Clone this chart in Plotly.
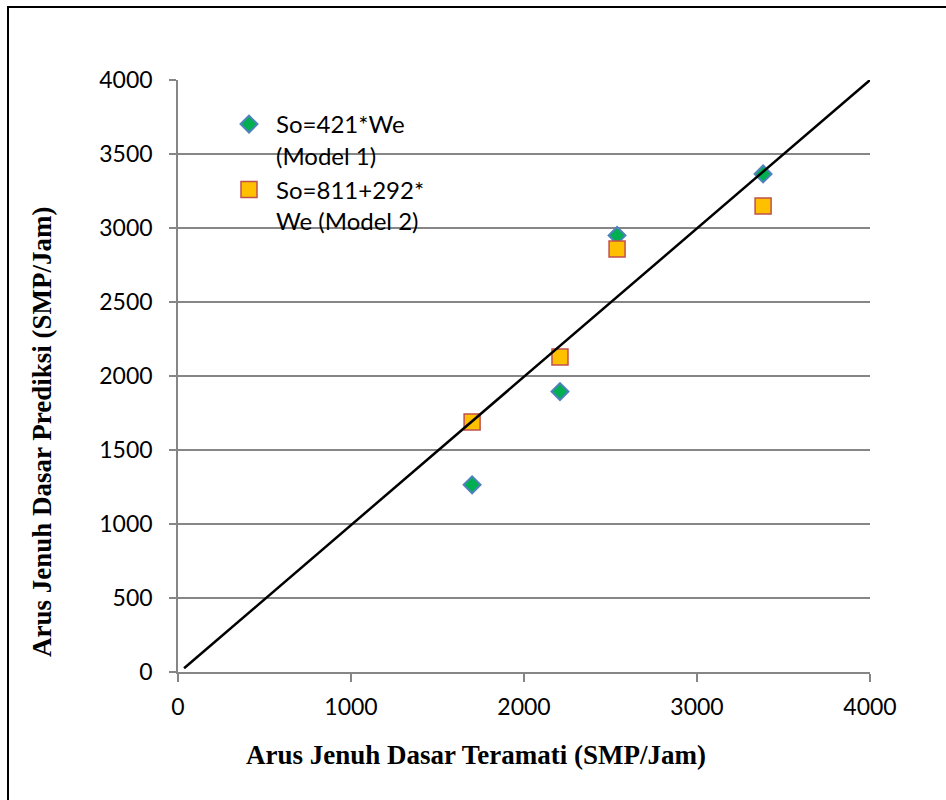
import plotly.graph_objects as go

observed = [1700, 2208, 2538, 3382]
model1 = [1265, 1895, 2950, 3365]
model2 = [1690, 2128, 2858, 3149]
line_x = [35, 4000]
line_y = [25, 4000]
ticks = [0, 500, 1000, 1500, 2000, 2500, 3000, 3500, 4000]
xticks = [0, 1000, 2000, 3000, 4000]

W, H = 946, 800
L, R, T, B = 178, 76, 80, 128
pw, ph = W - L - R, H - T - B

def px(x):
    return (x - L) / pw

def py(y):
    return (H - B - y) / ph

fig = go.Figure()
fig.add_trace(go.Scatter(
    x=observed, y=model1, mode="markers", name="So=421*We<br>(Model 1)",
    marker=dict(symbol="diamond", size=13, color="#00B050",
                line=dict(color="#4F81BD", width=2))))
fig.add_trace(go.Scatter(
    x=observed, y=model2, mode="markers", name="So=811+292*<br>We (Model 2)",
    marker=dict(symbol="square", size=16, color="#FFC000",
                line=dict(color="#C0504D", width=1.5))))
fig.add_trace(go.Scatter(
    x=line_x, y=line_y, mode="lines", showlegend=False,
    line=dict(color="black", width=2.5)))

tickfont = dict(family="Lato, Open Sans, sans-serif", size=23, color="#000000")
titlefont = dict(family="Liberation Serif, Times New Roman, serif", size=27, color="#000")
fig.update_layout(
    width=W, height=H,
    margin=dict(l=L, r=R, t=T, b=B),
    paper_bgcolor="white", plot_bgcolor="white",
    showlegend=True,
    legend=dict(x=px(222), y=py(102), xanchor="left", yanchor="top", valign="top",
                font=dict(family="Lato, Open Sans, sans-serif", size=24, color="#000"),
                bgcolor="rgba(0,0,0,0)", tracegroupgap=0, itemwidth=44),
    xaxis=dict(range=[0, 4000], tickvals=xticks, showgrid=False, zeroline=False,
               showline=True, linecolor="#868686", linewidth=1.5,
               ticks="outside", ticklen=8, tickcolor="#868686", tickwidth=1.5,
               tickfont=tickfont, ticklabelstandoff=6),
    yaxis=dict(range=[0, 4000], tickvals=ticks, showgrid=True, gridcolor="#868686",
               gridwidth=1.5, zeroline=False,
               showline=True, linecolor="#868686", linewidth=1.5,
               ticks="outside", ticklen=7, tickcolor="#868686", tickwidth=1.5,
               tickfont=tickfont, ticklabelstandoff=12),
    annotations=[
        dict(text="<b>Arus Jenuh Dasar Teramati (SMP/Jam)</b>", xref="paper", yref="paper",
             x=px(476), y=py(755), xanchor="center", yanchor="middle", showarrow=False,
             font=titlefont),
        dict(text="<b>Arus Jenuh Dasar Prediksi (SMP/Jam)</b>", xref="paper", yref="paper",
             x=px(42), y=py(432), xanchor="center", yanchor="middle", showarrow=False,
             textangle=-90, font=titlefont),
    ],
    shapes=[
        dict(type="line", xref="paper", yref="paper", x0=px(8), y0=py(7), x1=px(8), y1=py(801),
             line=dict(color="black", width=2)),
        dict(type="line", xref="paper", yref="paper", x0=px(7), y0=py(7), x1=px(946), y1=py(7),
             line=dict(color="black", width=2)),
    ],
)

fig.write_html("out.html", config={"displayModeBar": False},
               post_script="document.body.style.margin='0';")
